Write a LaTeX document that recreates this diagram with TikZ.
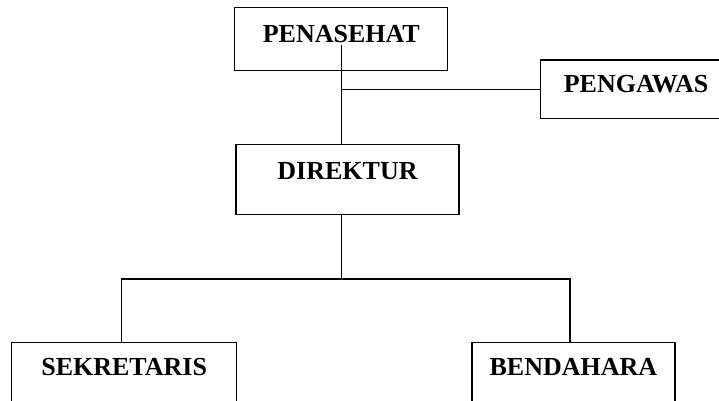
\documentclass[tikz,border=0pt]{standalone}
\usepackage{fontspec}
\setmainfont{Liberation Serif}
\begin{document}
\begin{tikzpicture}[x=1pt,y=-1pt,
  jabatan/.style={draw,line width=1.2pt,inner sep=0pt,anchor=north,
    font=\fontsize{26}{30}\selectfont\bfseries},
  garis/.style={line width=1.2pt}]
            \useasboundingbox (0,0) rectangle (719,400);
            \clip (0,0) rectangle (719,400);
            \node[jabatan,minimum width=213pt,text height=34.4pt,text depth=28.6pt] (penasehat) at (341.3,7) {PENASEHAT};
            \node[jabatan,minimum width=191pt,text height=32.1pt,text depth=26.6pt] (pengawas) at (636,59.3) {PENGAWAS};
            \node[jabatan,minimum width=223pt,text height=34.5pt,text depth=35.5pt] (direktur) at (347.5,144) {DIREKTUR};
            \node[jabatan,minimum width=225pt,text height=33.4pt,text depth=36.6pt] (sekretaris) at (124.2,341.7) {SEKRETARIS};
            \node[jabatan,minimum width=203pt,text height=33.4pt,text depth=36.6pt] (bendahara) at (573.4,341.7) {BENDAHARA};
            \coordinate (atas) at (341.7,45);
            \coordinate (cabang) at (341.7,279);
            \coordinate (kiri) at ([xshift=-2.5pt]sekretaris.north);
            \coordinate (kanan) at ([xshift=-3.4pt]bendahara.north);
            \draw[garis] (atas) -- (atas |- direktur.north);
            \draw[garis] (atas |- pengawas.west) -- (pengawas.west);
            \draw[garis] (atas |- direktur.south) -- (cabang);
            \draw[garis] (kiri) -- (kiri |- cabang) -- (kanan |- cabang) -- (kanan);
         \end{tikzpicture}
\end{document}
